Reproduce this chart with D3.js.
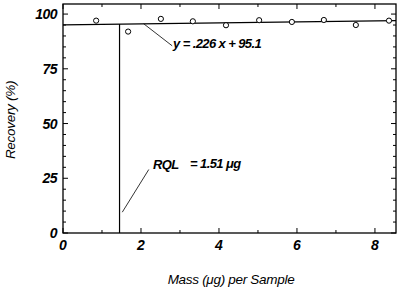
<!DOCTYPE html>
<html lang="en">
<head>
<meta charset="UTF-8">
<title>Recovery vs Mass</title>
<script src="https://unpkg.com/d3@7.8.5/dist/d3.min.js"></script>
<style>
  body { margin: 0; background: #fff; }
  text { font-family: "Liberation Sans", Arial, sans-serif; font-style: italic; }
</style>
</head>
<body>
<svg width="400" height="294"></svg>
<script>
// data
var mass = [0.85, 1.67, 2.51, 3.33, 4.18, 5.03, 5.87, 6.69, 7.51, 8.36]
var recovery = [97.0, 92.0, 97.8, 96.7, 94.9, 97.2, 96.4, 97.3, 95.0, 97.0]
var slope = 0.226
var intercept = 95.1
var rqlLine = 1.45
var xTicks = [0, 2, 4, 6, 8]
var yTicks = [0, 25, 50, 75, 100]

var svg = d3.select('svg')
// plot box (don't call it "top", that's window.top)
var pLeft = 63, pRight = 396, pTop = 4, pBottom = 233

var x = d3.scaleLinear().domain([0, 8.54]).range([pLeft, pRight])
var y = d3.scaleLinear().domain([0, 104.6]).range([pBottom, pTop])

// frame
svg.append('rect')
  .attr('x', pLeft).attr('y', pTop)
  .attr('width', pRight - pLeft).attr('height', pBottom - pTop)
  .attr('fill', 'none').attr('stroke', '#000').attr('stroke-width', 1.3)

// ticks on all four sides, pointing inward
var xMinor = d3.range(0, 9, 1)
var yMinor = d3.range(0, 105, 5)
var g = svg.append('g').attr('stroke', '#000').attr('stroke-width', 1)
xMinor.forEach(function (v) {
  var len = v % 2 === 0 ? 5 : 3
  g.append('line').attr('x1', x(v)).attr('x2', x(v)).attr('y1', pBottom).attr('y2', pBottom - len)
  g.append('line').attr('x1', x(v)).attr('x2', x(v)).attr('y1', pTop).attr('y2', pTop + len)
})
yMinor.forEach(function (v) {
  var len = v % 25 === 0 ? 5 : 3
  g.append('line').attr('x1', pLeft).attr('x2', pLeft + len).attr('y1', y(v)).attr('y2', y(v))
  g.append('line').attr('x1', pRight).attr('x2', pRight - len).attr('y1', y(v)).attr('y2', y(v))
})

// tick labels
svg.selectAll('.xl').data(xTicks).enter().append('text')
  .attr('x', function (d) { return x(d) }).attr('y', pBottom + 17)
  .attr('text-anchor', 'middle').attr('font-size', 14).attr('font-weight', 'bold')
  .text(function (d) { return d })
svg.selectAll('.yl').data(yTicks).enter().append('text')
  .attr('x', pLeft - 6).attr('y', function (d) { return y(d) + 5 })
  .attr('text-anchor', 'end').attr('font-size', 14).attr('font-weight', 'bold')
  .attr('letter-spacing', -0.5)
  .text(function (d) { return d })

// axis titles
svg.append('text').attr('x', 231).attr('y', 284)
  .attr('text-anchor', 'middle').attr('font-size', 13.5).attr('letter-spacing', -0.3)
  .text('Mass (\u03bcg) per Sample')
svg.append('text').attr('transform', 'translate(15,120) rotate(-90)')
  .attr('text-anchor', 'middle').attr('font-size', 13.5).attr('letter-spacing', -0.3)
  .text('Recovery (%)')

// regression line
var line = d3.line().x(function (d) { return x(d) }).y(function (d) { return y(slope * d + intercept) })
svg.append('path').datum([0, 8.54]).attr('d', line)
  .attr('fill', 'none').attr('stroke', '#000').attr('stroke-width', 1.2)

// RQL vertical line
svg.append('line')
  .attr('x1', x(rqlLine)).attr('x2', x(rqlLine))
  .attr('y1', y(0)).attr('y2', y(slope * rqlLine + intercept))
  .attr('stroke', '#000').attr('stroke-width', 1.2)

// points
svg.selectAll('circle').data(mass).enter().append('circle')
  .attr('cx', function (d) { return x(d) })
  .attr('cy', function (d, i) { return y(recovery[i]) })
  .attr('r', 2.6).attr('fill', '#fff').attr('stroke', '#000').attr('stroke-width', 1)

// annotations
svg.append('line').attr('x1', x(2.07)).attr('y1', y(slope * 2.07 + intercept))
  .attr('x2', x(2.8)).attr('y2', y(85.5)).attr('stroke', '#000').attr('stroke-width', 0.8)
svg.append('text').attr('x', 173).attr('y', 48).attr('font-size', 13)
  .attr('font-weight', 'bold').attr('letter-spacing', -0.6)
  .text('y = .226 x + 95.1')

svg.append('line').attr('x1', x(1.52)).attr('y1', y(9.5))
  .attr('x2', x(2.2)).attr('y2', y(29))
  .attr('stroke', '#000').attr('stroke-width', 0.8)
svg.append('text').attr('x', 153).attr('y', 169).attr('font-size', 13)
  .attr('font-weight', 'bold').attr('letter-spacing', -0.6).text('RQL')
svg.append('text').attr('x', 190).attr('y', 168).attr('font-size', 13)
  .attr('font-weight', 'bold').attr('letter-spacing', -0.6).text('= 1.51 \u03bcg')
</script>
</body>
</html>
